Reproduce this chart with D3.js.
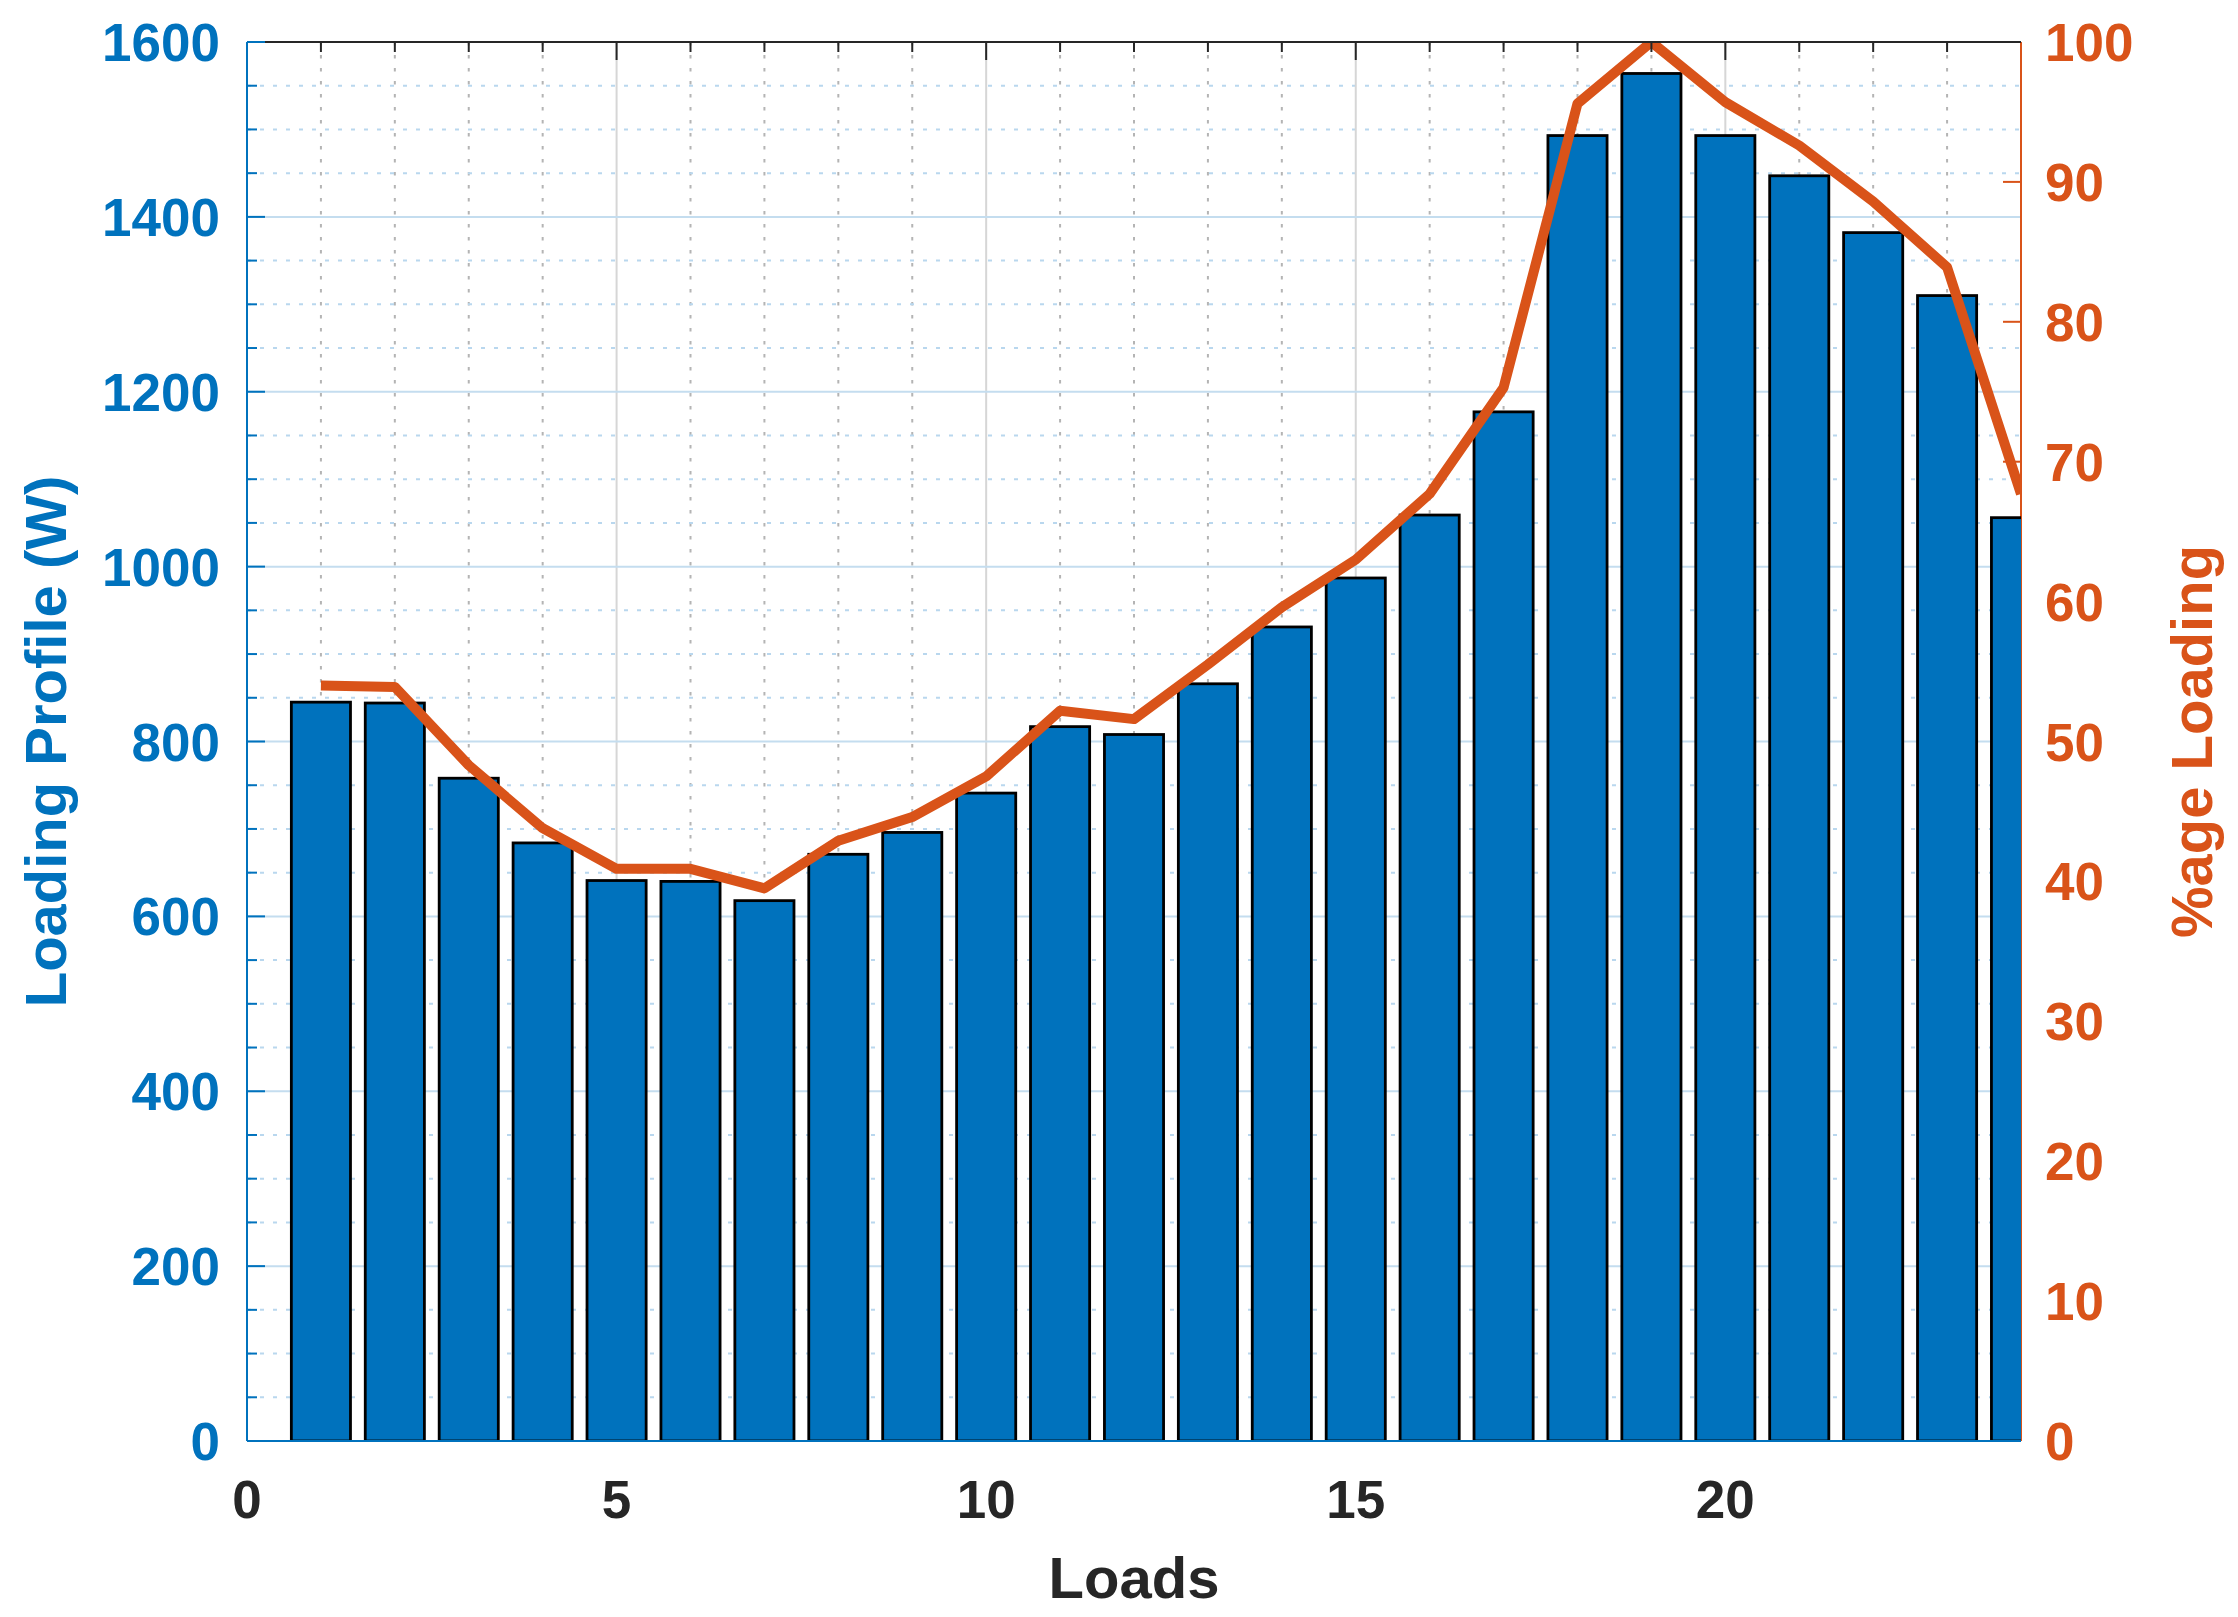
<!DOCTYPE html>
<html>
<head>
<meta charset="utf-8">
<script src="https://cdn.jsdelivr.net/npm/d3@7"></script>
<style>
  html, body { margin: 0; padding: 0; background: #ffffff; }
  svg { display: block; }
  text { font-family: "Liberation Sans", Arial, Helvetica, sans-serif; font-weight: bold; }
</style>
</head>
<body>
<script>
// ---- data ----
const loadsIndex = [1,2,3,4,5,6,7,8,9,10,11,12,13,14,15,16,17,18,19,20,21,22,23,24];
const loadWatts = [845, 844, 758, 684, 641, 640, 618, 671, 696, 741, 817, 808,
                   866, 931, 987, 1059, 1177, 1493, 1564, 1493, 1447, 1382, 1310, 1056];
const loadPercent = [54.0, 53.9, 48.3, 43.8, 40.9, 40.9, 39.5, 42.9, 44.6, 47.5, 52.2, 51.6,
                     55.5, 59.6, 63.0, 67.7, 75.3, 95.6, 100, 95.7, 92.6, 88.6, 83.9, 67.7];
const xTicks = [0, 5, 10, 15, 20];
const yLeftTicks = [0, 200, 400, 600, 800, 1000, 1200, 1400, 1600];
const yRightTicks = [0, 10, 20, 30, 40, 50, 60, 70, 80, 90, 100];

// ---- layout ----
const W = 2238, H = 1617;
const L = 247, R = 2021, T = 42, B = 1441;
const blue = "#0072BD", orange = "#D95319", dark = "#262626";

const svg = d3.select("body").append("svg").attr("width", W).attr("height", H);

const x = d3.scaleLinear().domain([0, 24]).range([L, R]);
const yL = d3.scaleLinear().domain([0, 1600]).range([B, T]);
const yR = d3.scaleLinear().domain([0, 100]).range([B, T]);

svg.append("defs").append("clipPath").attr("id", "plotclip")
  .append("rect").attr("x", L).attr("y", T).attr("width", R - L).attr("height", B - T);

// ---- grid ----
const grid = svg.append("g");
const minorX = d3.range(1, 24);
const minorY = d3.range(50, 1600, 50).filter(v => v % 200 !== 0);
grid.selectAll(".gxm").data(minorX.filter(v => v % 5 !== 0)).enter().append("line")
  .attr("x1", d => x(d)).attr("x2", d => x(d)).attr("y1", T).attr("y2", B)
  .attr("stroke", "#b4b4b4").attr("stroke-width", 2).attr("stroke-dasharray", "3.5 9.5");
grid.selectAll(".gym").data(minorY).enter().append("line")
  .attr("x1", L).attr("x2", R).attr("y1", d => yL(d)).attr("y2", d => yL(d))
  .attr("stroke", "#b9d7ee").attr("stroke-width", 2).attr("stroke-dasharray", "4 9");
grid.selectAll(".gx").data(xTicks.filter(v => v > 0)).enter().append("line")
  .attr("x1", d => x(d)).attr("x2", d => x(d)).attr("y1", T).attr("y2", B)
  .attr("stroke", "#d6d6d6").attr("stroke-width", 2);
grid.selectAll(".gy").data(yLeftTicks.filter(v => v > 0 && v < 1600)).enter().append("line")
  .attr("x1", L).attr("x2", R).attr("y1", d => yL(d)).attr("y2", d => yL(d))
  .attr("stroke", "#c4ddef").attr("stroke-width", 2);

// ---- right axis (under bars) ----
const rAxis = svg.append("g");
rAxis.append("line").attr("x1", R).attr("x2", R).attr("y1", T).attr("y2", B)
  .attr("stroke", orange).attr("stroke-width", 2);
rAxis.selectAll(".rt").data(yRightTicks).enter().append("line")
  .attr("x1", R - 18).attr("x2", R).attr("y1", d => yR(d)).attr("y2", d => yR(d))
  .attr("stroke", orange).attr("stroke-width", 2);
rAxis.selectAll(".rl").data(yRightTicks).enter().append("text")
  .attr("x", R + 24).attr("y", d => yR(d) + 19)
  .attr("text-anchor", "start").attr("font-size", 53).attr("fill", orange)
  .text(d => d);

// ---- bars ----
const barW = 0.8;
svg.append("g").attr("clip-path", "url(#plotclip)")
  .selectAll("rect").data(loadsIndex).enter().append("rect")
  .attr("x", (d) => x(d - barW / 2))
  .attr("width", x(barW) - x(0))
  .attr("y", (d, i) => yL(loadWatts[i]))
  .attr("height", (d, i) => yL(0) - yL(loadWatts[i]))
  .attr("fill", blue).attr("stroke", "#000").attr("stroke-width", 2.8);

// ---- line ----
const lineGen = d3.line().x((d) => x(d)).y((d, i) => yR(loadPercent[i]));
svg.append("g").attr("clip-path", "url(#plotclip)")
  .append("path").datum(loadsIndex).attr("d", lineGen)
  .attr("fill", "none").attr("stroke", orange).attr("stroke-width", 10)
  .attr("stroke-linejoin", "round").attr("stroke-linecap", "butt");

// ---- top axis ----
const topAxis = svg.append("g");
topAxis.append("line").attr("x1", L).attr("x2", R).attr("y1", T).attr("y2", T)
  .attr("stroke", dark).attr("stroke-width", 2);
topAxis.selectAll(".tt").data(d3.range(1, 24)).enter().append("line")
  .attr("x1", d => x(d)).attr("x2", d => x(d)).attr("y1", T)
  .attr("y2", d => T + (d % 5 === 0 ? 18 : 10))
  .attr("stroke", dark).attr("stroke-width", 2);

// ---- bottom axis ----
const botAxis = svg.append("g");
botAxis.append("line").attr("x1", L).attr("x2", R).attr("y1", B).attr("y2", B)
  .attr("stroke", blue).attr("stroke-width", 2);
botAxis.selectAll(".xl").data(xTicks).enter().append("text")
  .attr("x", d => x(d)).attr("y", 1518)
  .attr("text-anchor", "middle").attr("font-size", 53).attr("fill", dark)
  .text(d => d);

// ---- left axis ----
const lAxis = svg.append("g");
lAxis.append("line").attr("x1", L).attr("x2", L).attr("y1", T).attr("y2", B)
  .attr("stroke", blue).attr("stroke-width", 2);
lAxis.selectAll(".lm").data(minorY).enter().append("line")
  .attr("x1", L).attr("x2", L + 10).attr("y1", d => yL(d)).attr("y2", d => yL(d))
  .attr("stroke", blue).attr("stroke-width", 2);
lAxis.selectAll(".lt").data(yLeftTicks).enter().append("line")
  .attr("x1", L).attr("x2", L + 18).attr("y1", d => yL(d)).attr("y2", d => yL(d))
  .attr("stroke", blue).attr("stroke-width", 2);
lAxis.selectAll(".ll").data(yLeftTicks).enter().append("text")
  .attr("x", L - 27).attr("y", d => yL(d) + 19)
  .attr("text-anchor", "end").attr("font-size", 53).attr("fill", blue)
  .text(d => d);

// ---- axis titles ----
svg.append("text").attr("x", (L + R) / 2).attr("y", 1598)
  .attr("text-anchor", "middle").attr("font-size", 58).attr("fill", dark).text("Loads");
svg.append("text").attr("transform", `translate(66, ${(T + B) / 2}) rotate(-90)`)
  .attr("text-anchor", "middle").attr("font-size", 58).attr("fill", blue).text("Loading Profile (W)");
svg.append("text").attr("transform", `translate(2212, ${(T + B) / 2}) rotate(-90)`)
  .attr("text-anchor", "middle").attr("font-size", 58).attr("fill", orange).text("%age Loading");
</script>
</body>
</html>
